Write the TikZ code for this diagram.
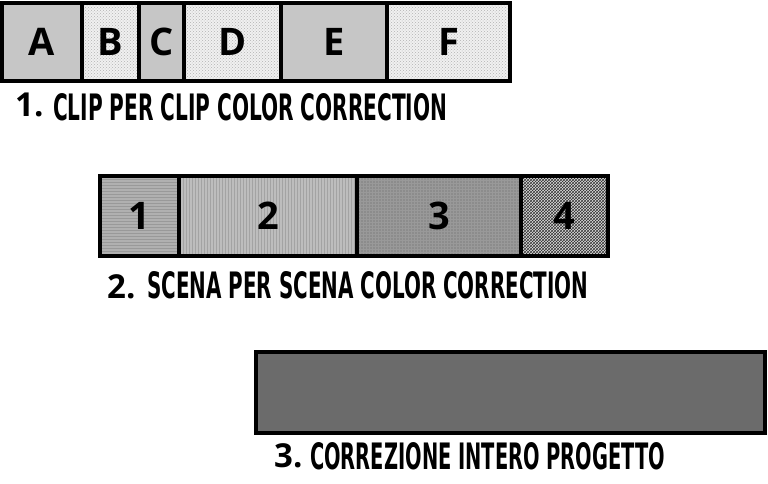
\documentclass[tikz,border=0pt]{standalone}
\usepackage{graphicx}
\usepackage{fontspec}
\usetikzlibrary{positioning,patterns}
\newfontfamily\cellfont{Open Sans}
\newfontfamily\titlefont{DejaVu Sans Condensed}
\newcommand{\titolo}[3]{\resizebox{#1}{#2}{\titlefont\bfseries #3}}

\begin{document}
\begin{tikzpicture}[%
        x=1pt, y=-1pt,
        cell/.style={draw, line width=3.5pt, outer sep=0pt, inner sep=0pt, minimum height=78pt,
          font=\cellfont\bfseries\fontsize{38}{38}\selectfont},
        clipdark/.style={cell, fill=gray!45},
        cliplight/.style={cell, preaction={fill=gray!12}, pattern=crosshatch dots, pattern color=gray!60},
        scena/.style={cell, minimum height=80pt},
        num/.style={inner sep=0pt, anchor=north west, font=\cellfont\bfseries\fontsize{33}{33}\selectfont},
        title/.style={inner sep=0pt, anchor=north west}
      ]
      \useasboundingbox (0,0) rectangle (768,483);
      \node (A) [clipdark, minimum width=80pt] at (42,42) {A};
      \node (B) [cliplight, minimum width=57pt, right=0pt of A] {B};
      \node (C) [clipdark, minimum width=45pt, right=0pt of B] {C};
      \node (D) [cliplight, minimum width=97pt, right=0pt of C] {D};
      \node (E) [clipdark, minimum width=106pt, right=0pt of D] {E};
      \node (F) [cliplight, minimum width=123pt, right=0pt of E] {F};
      \node (n1) [num] at (15,93) {1.};
      \node (t1) [title] at (53,93) {\titolo{394pt}{27pt}{CLIP PER CLIP COLOR CORRECTION}};
      \node (s1) [scena, minimum width=79pt, preaction={fill=gray!62},
        pattern=horizontal lines, pattern color=gray!80] at (139.5,216) {1};
      \node (s2) [scena, minimum width=178pt, right=0pt of s1, preaction={fill=gray!52},
        pattern=vertical lines, pattern color=gray!72] {2};
      \node (s3) [scena, minimum width=164pt, right=0pt of s2, preaction={fill=black!45},
        pattern=grid, pattern color=black!40] {3};
      \node (s4) [scena, minimum width=87pt, right=0pt of s3, preaction={fill=gray!25},
        pattern=crosshatch, pattern color=black!80] {4};
      \node (n2) [num] at (107,274) {2.};
      \node (t2) [title] at (147,271) {\titolo{441pt}{27pt}{SCENA PER SCENA COLOR CORRECTION}};
      \node (tutto) [cell, minimum width=509pt, minimum height=81pt, fill=black!58] at (510.5,392.5) {};
      \node (n3) [num] at (274,443) {3.};
      \node (t3) [title] at (310,442) {\titolo{355pt}{27pt}{CORREZIONE INTERO PROGETTO}};
    \end{tikzpicture}
\end{document}
